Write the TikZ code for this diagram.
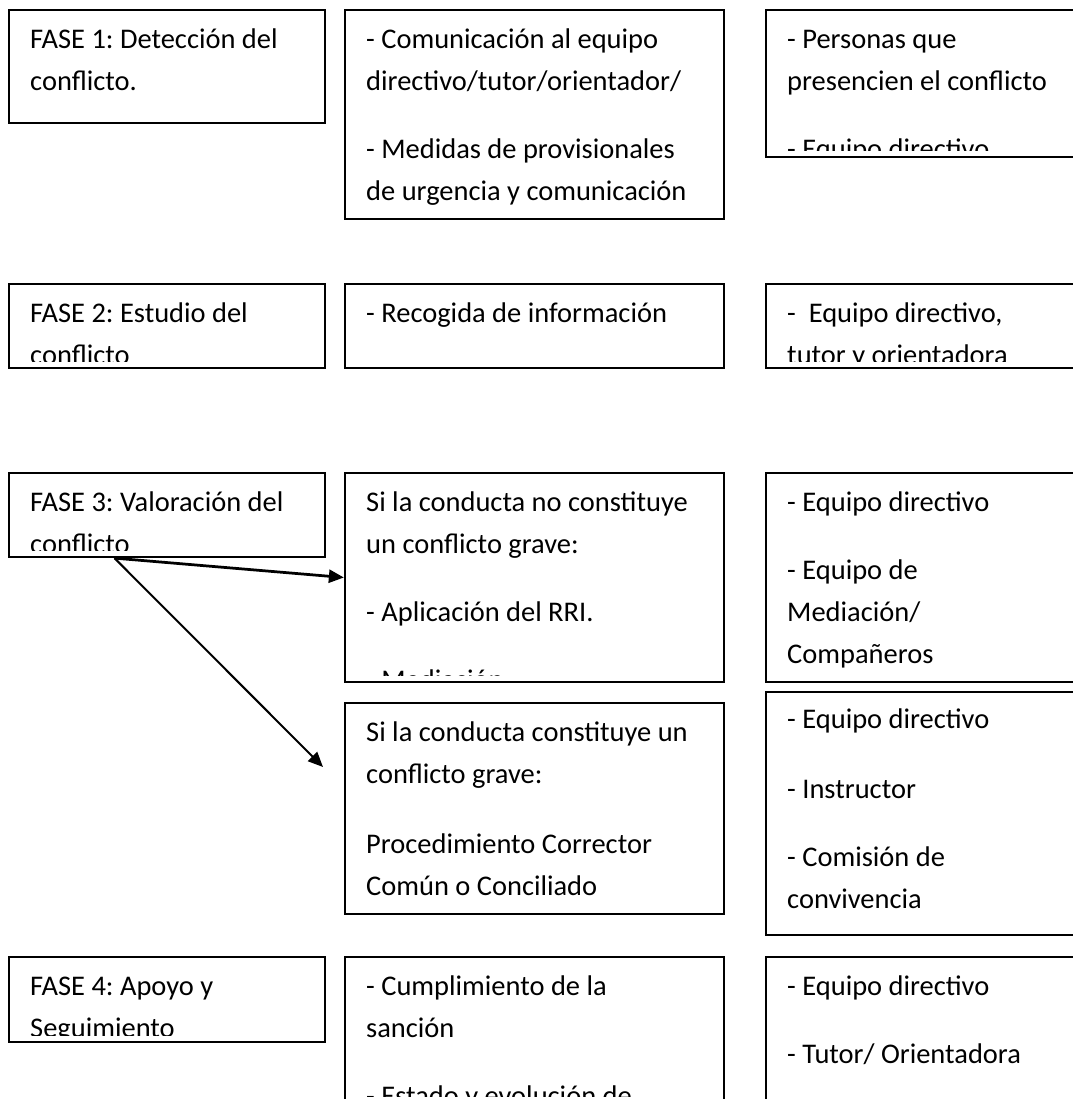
\documentclass[tikz,border=0pt]{standalone}
\usepackage{fontspec}
\setmainfont{Carlito}
\frenchspacing
\usetikzlibrary{arrows.meta}
\usetikzlibrary{calc}
\usetikzlibrary{fit}

% text lines of one box, cut off at the inner bottom margin
\newcommand{\boxlines}[2]{%
  \begin{scope}
    \clip (#1.north west) rectangle ([shift={(0,-8)}]#1.south east);
    \foreach \dy/\txt [count=\i] in {#2}
      \node[line] (#1-\i) at ([shift={(22,\dy)}]#1.north west) {\txt};
  \end{scope}}

\begin{document}
\begin{tikzpicture}[x=0.02cm, y=-0.02cm, font=\fontsize{16.2}{19}\selectfont,
  box/.style={draw=black, line width=0.045cm, inner sep=0pt},
  line/.style={anchor=base west, inner sep=0pt},
  arrowthick/.style={line width=0.055cm, -{Triangle[length=0.3cm, width=0.26cm]}},
  arrowthin/.style={line width=0.04cm, -{Triangle[length=0.3cm, width=0.26cm]}}]
  \useasboundingbox (0,0) rectangle (1072,1099);

  % Fase 1
  \node[box, fit={(9,10) (325,123)}] (f1) {};
  \node[box, fit={(345,10) (724,219)}] (m1) {};
  \node[box, fit={(766,10) (1090,157)}] (r1) {};
  \boxlines{f1}{40/FASE 1: Detección del, 82/conflicto.}
  \boxlines{m1}{40/- Comunicación al equipo, 82/{directivo/tutor/orientador/},
    150/- Medidas de provisionales, 192/de urgencia y comunicación}
  \boxlines{r1}{40/- Personas que, 82/presencien el conflicto, 150/- Equipo directivo}

  % Fase 2
  \node[box, fit={(9,284) (325,368)}] (f2) {};
  \node[box, fit={(345,284) (724,368)}] (m2) {};
  \node[box, fit={(766,284) (1090,368)}] (r2) {};
  \boxlines{f2}{40/FASE 2: Estudio del, 82/conflicto}
  \boxlines{m2}{40/- Recogida de información}
  \boxlines{r2}{40/{-~~Equipo directivo,}, 82/tutor y orientadora}

  % Fase 3
  \node[box, fit={(9,473) (325,557)}] (f3) {};
  \node[box, fit={(345,473) (724,682)}] (m3a) {};
  \node[box, fit={(766,473) (1090,682)}] (r3a) {};
  \node[box, fit={(345,703) (724,914)}] (m3b) {};
  \node[box, fit={(766,692) (1090,935)}] (r3b) {};
  \boxlines{f3}{40/FASE 3: Valoración del, 82/conflicto}
  \boxlines{m3a}{40/Si la conducta no constituye, 82/un conflicto grave:,
    150/- Aplicación del RRI., 218/- Mediación}
  \boxlines{r3a}{40/- Equipo directivo, 108/- Equipo de, 150/{Mediación/}, 192/Compañeros}
  \boxlines{m3b}{40/Si la conducta constituye un, 82/conflicto grave:,
    152/Procedimiento Corrector, 194/Común o Conciliado}
  \boxlines{r3b}{38/- Equipo directivo, 108/- Instructor, 176/- Comisión de, 218/convivencia}

  % arrows out of fase 3
  \coordinate (f3out) at ($(f3.south west)!0.335!(f3.south east)$);
  \coordinate (m3bin) at (323,767);
  \draw[arrowthick] (f3out) -- (m3a.west);
  \draw[arrowthin] (f3out) -- (m3bin);

  % Fase 4
  \node[box, fit={(9,957) (325,1042)}] (f4) {};
  \node[box, fit={(345,957) (724,1103)}] (m4) {};
  \node[box, fit={(766,957) (1090,1103)}] (r4) {};
  \boxlines{f4}{40/FASE 4: Apoyo y, 82/Seguimiento}
  \boxlines{m4}{40/- Cumplimiento de la, 82/sanción, 150/- Estado y evolución de}
  \boxlines{r4}{40/- Equipo directivo, 108/{- Tutor/ Orientadora}}

\end{tikzpicture}
\end{document}
